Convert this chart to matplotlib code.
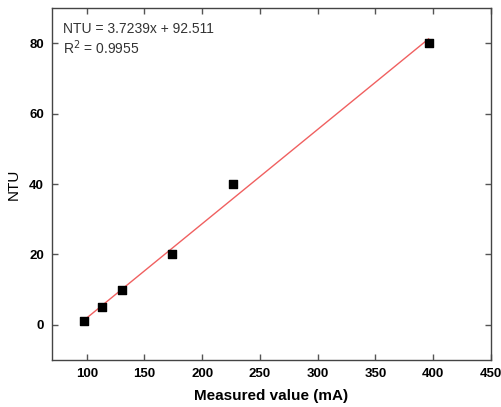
import matplotlib
matplotlib.use("Agg")
import matplotlib.pyplot as plt
import numpy as np

measured = [97.7, 113.5, 130.8, 173.9, 226.7, 396.0]
ntu = [1, 5, 10, 20, 40, 80]
x_ticks = [100, 150, 200, 250, 300, 350, 400, 450]
y_ticks = [0, 20, 40, 60, 80]
eq_text = "NTU = 3.7239x + 92.511"
r2_text = "R$^2$ = 0.9955"

plt.rcParams['font.family'] = ['Liberation Sans', 'DejaVu Sans']

fig = plt.figure(figsize=(5.01, 4.07), dpi=100)
ax = fig.add_axes([0.104, 0.1155, 0.876, 0.8645])

xs = np.array(measured)
slope, icpt = np.polyfit(xs, ntu, 1)
xl = np.array([xs.min(), xs.max()])
ax.plot(xl, slope * xl + icpt, color='#f06060', lw=1.0, zorder=2)
ax.scatter(measured, ntu, marker='s', s=30, color='black', zorder=3)

ax.set_xlim(70, 450)
ax.set_ylim(-10, 90)
ax.set_xticks(x_ticks)
ax.set_yticks(y_ticks)
ax.tick_params(direction='in', top=True, right=True, length=4, width=1,
               color='#555555', labelsize=9.5, pad=6)
for lab in ax.get_xticklabels() + ax.get_yticklabels():
    lab.set_fontweight('bold')
for sp in ax.spines.values():
    sp.set_color('#444444')
    sp.set_linewidth(1.0)

ax.set_xlabel("Measured value (mA)", fontsize=11, fontweight='bold', labelpad=6)
ax.set_ylabel("NTU", fontsize=11, labelpad=6)

ax.text(0.025, 0.962, eq_text + "\n" + r2_text, transform=ax.transAxes,
        ha='left', va='top', fontsize=10, color='#333333', linespacing=1.2)

fig.savefig("out.png", dpi=100)
